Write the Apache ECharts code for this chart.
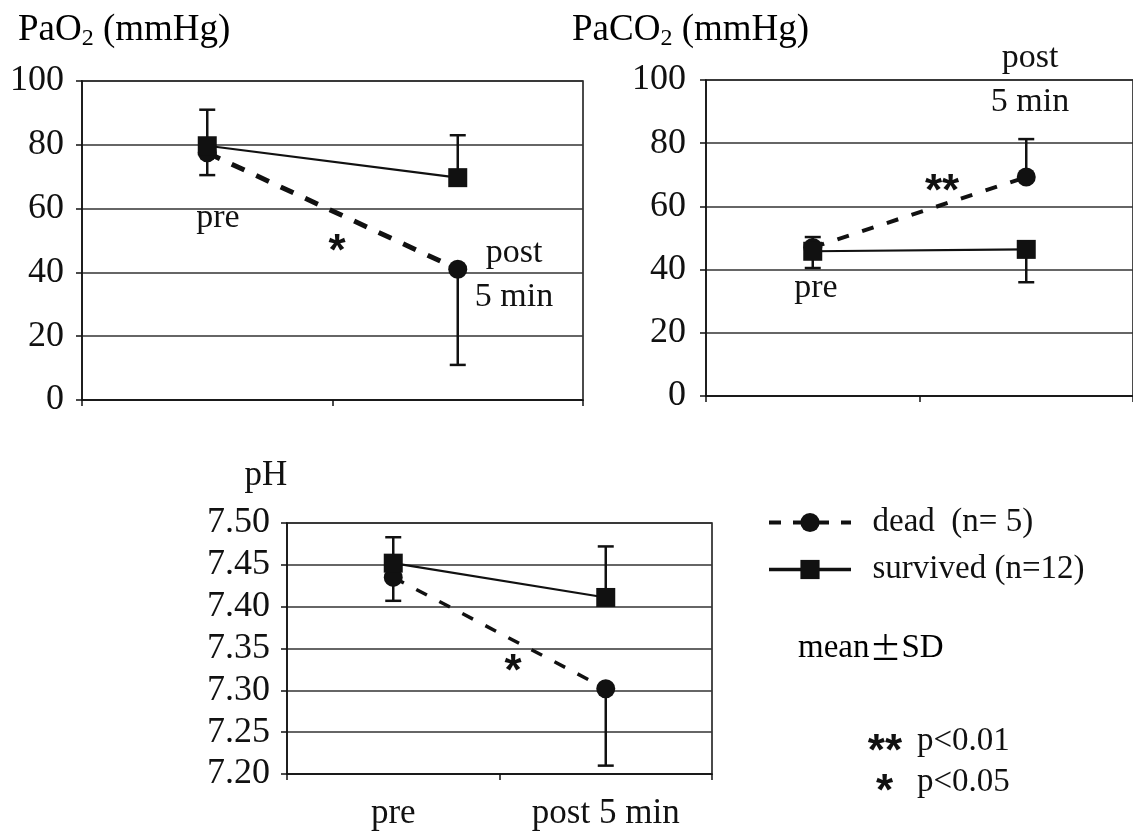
<!DOCTYPE html>
<html>
<head>
<meta charset="utf-8">
<script src="https://cdn.jsdelivr.net/npm/echarts@6/dist/echarts.min.js"></script>
<style>
  html, body { margin: 0; padding: 0; background: #fff; }
  #main { width: 1133px; height: 833px; }
</style>
</head>
<body>
<div id="main"></div>
<script>
// categories
let categories = ['pre', 'post 5 min'];

// PaO2 (mmHg)
let pao2Dead = [77.5, 41];
let pao2DeadBar = [70.5, 11];     // end of error bar (mean - SD)
let pao2Surv = [79.7, 69.7];
let pao2SurvBar = [91, 83];       // mean + SD

// PaCO2 (mmHg)
let paco2Dead = [47, 69.3];
let paco2DeadBar = [50.3, 81.3];
let paco2Surv = [45.8, 46.4];
let paco2SurvBar = [40.5, 36];

// pH
let phDead = [7.435, 7.302];
let phDeadBar = [7.407, 7.21];
let phSurv = [7.452, 7.411];
let phSurvBar = [7.483, 7.472];

let deadName = 'dead  (n= 5)';
let survName = 'survived (n=12)';
let font = '"Liberation Serif", "DejaVu Serif", serif';
let ink = '#111';

let chart = echarts.init(document.getElementById('main'), null, { renderer: 'canvas' });

function xAxisOf(grid, showLabel) {
  return {
    type: 'category',
    gridIndex: grid,
    data: categories,
    boundaryGap: true,
    axisLine: { lineStyle: { color: ink, width: 1.5 } },
    axisTick: { show: true, length: 6, lineStyle: { color: ink, width: 1.5 } },
    axisLabel: { show: showLabel, color: ink, fontFamily: font, fontSize: 35, margin: 22 },
    splitLine: { show: false }
  };
}
function yAxisOf(grid, min, max, step, digits, margin) {
  return {
    type: 'value',
    gridIndex: grid,
    min: min, max: max, interval: step,
    axisLine: { show: true, lineStyle: { color: ink, width: 1.5 } },
    axisTick: { show: true, length: 6, lineStyle: { color: ink, width: 1.5 } },
    axisLabel: {
      color: ink, fontFamily: font, fontSize: 36, margin: margin,
      formatter: function (v) { return v.toFixed(digits); }
    },
    splitLine: { show: true, lineStyle: { color: '#333', width: 1.5 } }
  };
}

function errBars(grid, means, ends) {
  return {
    type: 'custom',
    xAxisIndex: grid, yAxisIndex: grid,
    silent: true,
    z: 1,
    data: means.map(function (m, i) { return [i, m, ends[i]]; }),
    renderItem: function (params, api) {
      let p0 = api.coord([api.value(0), api.value(1)]);
      let p1 = api.coord([api.value(0), api.value(2)]);
      let st = { stroke: ink, lineWidth: 2.5 };
      return {
        type: 'group',
        children: [
          { type: 'line', shape: { x1: p0[0], y1: p0[1], x2: p1[0], y2: p1[1] }, style: st },
          { type: 'line', shape: { x1: p1[0] - 8, y1: p1[1], x2: p1[0] + 8, y2: p1[1] }, style: st }
        ]
      };
    }
  };
}

function panelSeries(grid, dead, deadBar, surv, survBar, dashW, dash) {
  return [
    errBars(grid, dead, deadBar),
    errBars(grid, surv, survBar),
    {
      name: deadName, type: 'line', xAxisIndex: grid, yAxisIndex: grid,
      data: dead, symbol: 'circle', symbolSize: 19, z: 3,
      itemStyle: { color: ink },
      lineStyle: { color: ink, width: dashW, type: dash },
      emphasis: { disabled: true }
    },
    {
      name: survName, type: 'line', xAxisIndex: grid, yAxisIndex: grid,
      data: surv, symbol: 'rect', symbolSize: 19, z: 4,
      itemStyle: { color: ink },
      lineStyle: { color: ink, width: 2.2, type: 'solid' },
      emphasis: { disabled: true }
    }
  ];
}

function txt(x, y, s, size, align) {
  return {
    type: 'text', x: x, y: y,
    style: {
      text: s, fill: ink, font: size + 'px ' + font,
      align: align || 'center', verticalAlign: 'middle'
    }
  };
}
// bold star marks; the glyph sits high, so y is set a bit under its visual centre
function star(x, y, s, align) {
  return {
    type: 'text', x: x, y: y,
    style: {
      text: s, fill: ink, font: 'bold 44px "Liberation Sans", "DejaVu Sans", sans-serif',
      align: align || 'center', verticalAlign: 'middle'
    }
  };
}
function subTitle(x, y, main, sub, rest) {
  return {
    type: 'text', x: x, y: y,
    style: {
      text: '{a|' + main + '}{s|' + sub + '}{a|' + rest + '}',
      align: 'left', verticalAlign: 'middle',
      rich: {
        a: { fontFamily: font, fontSize: 37, lineHeight: 42, color: ink },
        s: { fontFamily: font, fontSize: 24, lineHeight: 20, color: ink, verticalAlign: 'bottom' }
      }
    }
  };
}

let option = {
  backgroundColor: '#fff',
  animation: false,
  grid: [
    { left: 82, top: 81, width: 501, height: 319, show: true, borderColor: ink, borderWidth: 1.5, backgroundColor: 'transparent' },
    { left: 706, top: 80, width: 438, height: 316, show: true, borderColor: ink, borderWidth: 1.5, backgroundColor: 'transparent' },
    { left: 287, top: 523, width: 425, height: 251, show: true, borderColor: ink, borderWidth: 1.5, backgroundColor: 'transparent' }
  ],
  xAxis: [xAxisOf(0, false), xAxisOf(1, false), xAxisOf(2, true)],
  yAxis: [
    yAxisOf(0, 0, 100, 20, 0, 18),
    yAxisOf(1, 0, 100, 20, 0, 20),
    yAxisOf(2, 7.2, 7.5, 0.05, 2, 17)
  ],
  legend: {
    orient: 'vertical',
    left: 762, top: 501,
    itemWidth: 82, itemHeight: 24, itemGap: 14,
    selectedMode: false,
    data: [
      { name: deadName, lineStyle: { width: 4, type: [12, 12] } },
      { name: survName, lineStyle: { width: 3.5 } }
    ],
    formatter: function (n) { return '  ' + n; },
    textStyle: { color: ink, fontFamily: font, fontSize: 33 }
  },
  series: []
    .concat(panelSeries(0, pao2Dead, pao2DeadBar, pao2Surv, pao2SurvBar, 5, [14, 13]))
    .concat(panelSeries(1, paco2Dead, paco2DeadBar, paco2Surv, paco2SurvBar, 4, [12, 14]))
    .concat(panelSeries(2, phDead, phDeadBar, phSurv, phSurvBar, 3.5, [12, 14])),
  graphic: [
    subTitle(18, 30, 'PaO', '2', ' (mmHg)'),
    subTitle(572, 30, 'PaCO', '2', ' (mmHg)'),
    txt(266, 476, 'pH', 35),
    // panel notes
    txt(218, 218, 'pre', 34),
    star(337, 253, '*'),
    txt(514, 253, 'post', 34),
    txt(514, 297, '5 min', 34),
    txt(1030, 58, 'post', 34),
    txt(1030, 102, '5 min', 34),
    star(942, 193, '**'),
    txt(816, 288, 'pre', 34),
    star(513, 673, '*'),
    // legend notes
    {
      type: 'text', x: 798, y: 648,
      style: {
        text: '{a|mean}{b|\u00b1}{a|SD}', align: 'left', verticalAlign: 'middle',
        rich: {
          a: { fontFamily: font, fontSize: 33, color: ink },
          b: { fontFamily: '"Noto Sans CJK JP", sans-serif', fontSize: 32, color: ink }
        }
      }
    },
    star(902, 753, '**', 'right'),
    txt(917, 741, 'p<0.01', 33, 'left'),
    star(893, 793, '*', 'right'),
    txt(917, 782, 'p<0.05', 33, 'left')
  ]
};

chart.setOption(option);
</script>
</body>
</html>
